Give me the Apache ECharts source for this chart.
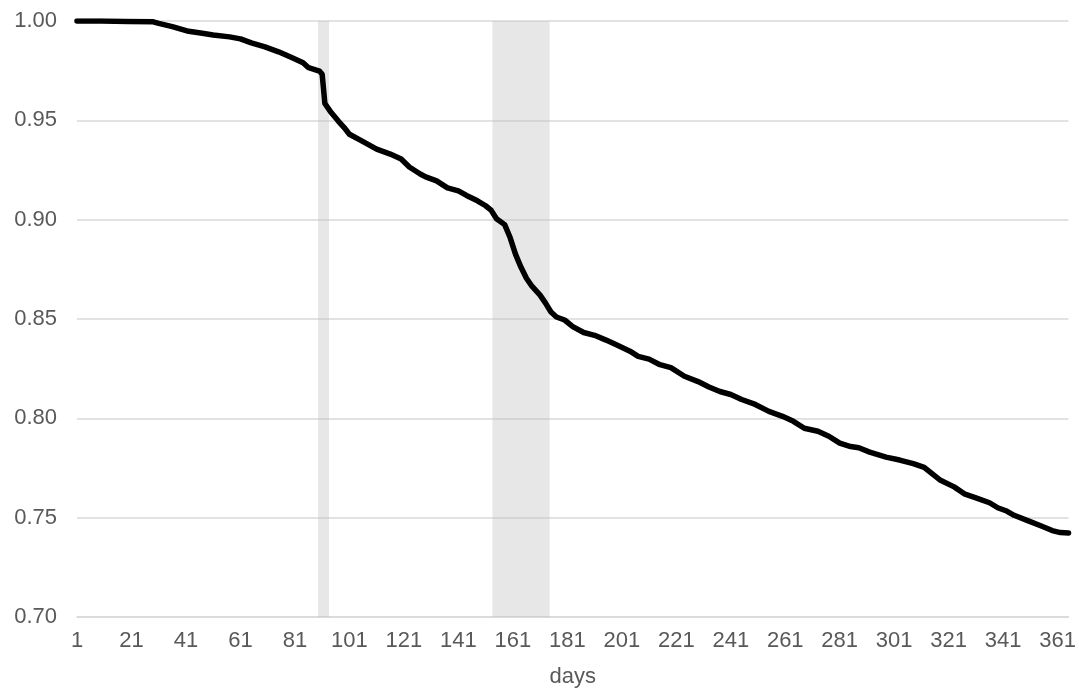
<!DOCTYPE html>
<html>
<head>
<meta charset="utf-8">
<script src="https://cdn.jsdelivr.net/npm/echarts@6/dist/echarts.min.js"></script>
<style>
  html, body { margin: 0; padding: 0; background: #fff; }
  #chart { width: 1079px; height: 695px; }
</style>
</head>
<body>
<div id="chart"></div>
<script>
// survival-style curve
const days = [1, 10, 20, 29, 31, 36, 42, 47, 51, 57, 61, 65, 70, 75, 80, 84, 86, 88, 90, 91, 92, 94, 97, 99,
  101, 105, 111, 116, 120, 123, 127, 129, 133, 137, 141, 144, 148, 151, 153, 155, 158, 160, 162, 164, 166, 168,
  171, 173, 175, 177, 180, 183, 187, 191, 195, 199, 204, 207, 211, 215, 219, 224, 229, 233, 237, 241, 245, 250,
  255, 260, 264, 268, 273, 277, 281, 285, 288, 292, 298, 303, 308, 312, 315, 318, 323, 327, 331, 336, 339, 342,
  345, 350, 355, 359, 362, 365];
const values = [1.000, 1.000, 0.9998, 0.9996, 0.9988, 0.9972, 0.9948, 0.9938, 0.9930, 0.9920, 0.9910, 0.9890,
  0.9870, 0.9845, 0.9815, 0.9790, 0.9765, 0.9757, 0.9748, 0.9732, 0.9585, 0.9545, 0.9495, 0.9465,
  0.9430, 0.9400, 0.9355, 0.9330, 0.9305, 0.9265, 0.9230, 0.9215, 0.9195, 0.9160, 0.9145, 0.9122, 0.9095, 0.9070,
  0.9048, 0.9005, 0.8975, 0.8910, 0.8825, 0.8760, 0.8705, 0.8665,
  0.8620, 0.8580, 0.8535, 0.8510, 0.8495, 0.8462, 0.8432, 0.8418, 0.8395, 0.8370, 0.8338, 0.8312, 0.8298, 0.8270,
  0.8255, 0.8212, 0.8185, 0.8158, 0.8135, 0.8120, 0.8095, 0.8070,
  0.8035, 0.8010, 0.7985, 0.7950, 0.7935, 0.7910, 0.7875, 0.7858, 0.7852, 0.7830, 0.7805, 0.7790, 0.7772, 0.7753,
  0.7720, 0.7688, 0.7655, 0.7618, 0.7600, 0.7575, 0.7550, 0.7535,
  0.7512, 0.7485, 0.7458, 0.7435, 0.7425, 0.7423];

// shaded periods (first and last day, inclusive)
const shadeFrom = [90, 154];
const shadeTo = [93, 174];

const yTicks = [0.70, 0.75, 0.80, 0.85, 0.90, 0.95, 1.00];

const textColor = '#595959';
const font = 'Liberation Sans, Arial, sans-serif';

let myChart = echarts.init(document.getElementById('chart'));
myChart.setOption({
  animation: false,
  grid: {
    left: 77,
    right: 7,
    top: 21,
    bottom: 78
  },
  xAxis: {
    type: 'value',
    min: 1,
    max: 365,
    interval: 20,
    name: 'days',
    nameLocation: 'middle',
    nameGap: 49,
    nameTextStyle: { color: textColor, fontSize: 22, fontFamily: font },
    axisLine: { show: true, lineStyle: { color: '#d9d9d9', width: 1.5 } },
    axisTick: { show: false },
    splitLine: { show: false },
    axisLabel: {
      color: textColor,
      fontSize: 22,
      fontFamily: font,
      margin: 13,
      showMaxLabel: false
    }
  },
  yAxis: {
    type: 'value',
    min: yTicks[0],
    max: yTicks[yTicks.length - 1],
    interval: 0.05,
    axisLine: { show: false },
    axisTick: { show: false },
    splitLine: { lineStyle: { color: '#d9d9d9', width: 1.5 } },
    axisLabel: {
      color: textColor,
      fontSize: 22,
      fontFamily: font,
      margin: 20,
      formatter: v => v.toFixed(2)
    }
  },
  series: [
    {
      type: 'line',
      data: days.map((d, i) => [d, values[i]]),
      symbol: 'none',
      lineStyle: { color: '#000', width: 5.5, join: 'round', cap: 'round' },
      z: 3,
      markArea: {
        silent: true,
        itemStyle: { color: 'rgba(191,191,191,0.37)' },
        data: shadeFrom.map((d, i) => [{ xAxis: d - 0.5 }, { xAxis: shadeTo[i] + 0.5 }])
      }
    }
  ]
});
</script>
</body>
</html>
